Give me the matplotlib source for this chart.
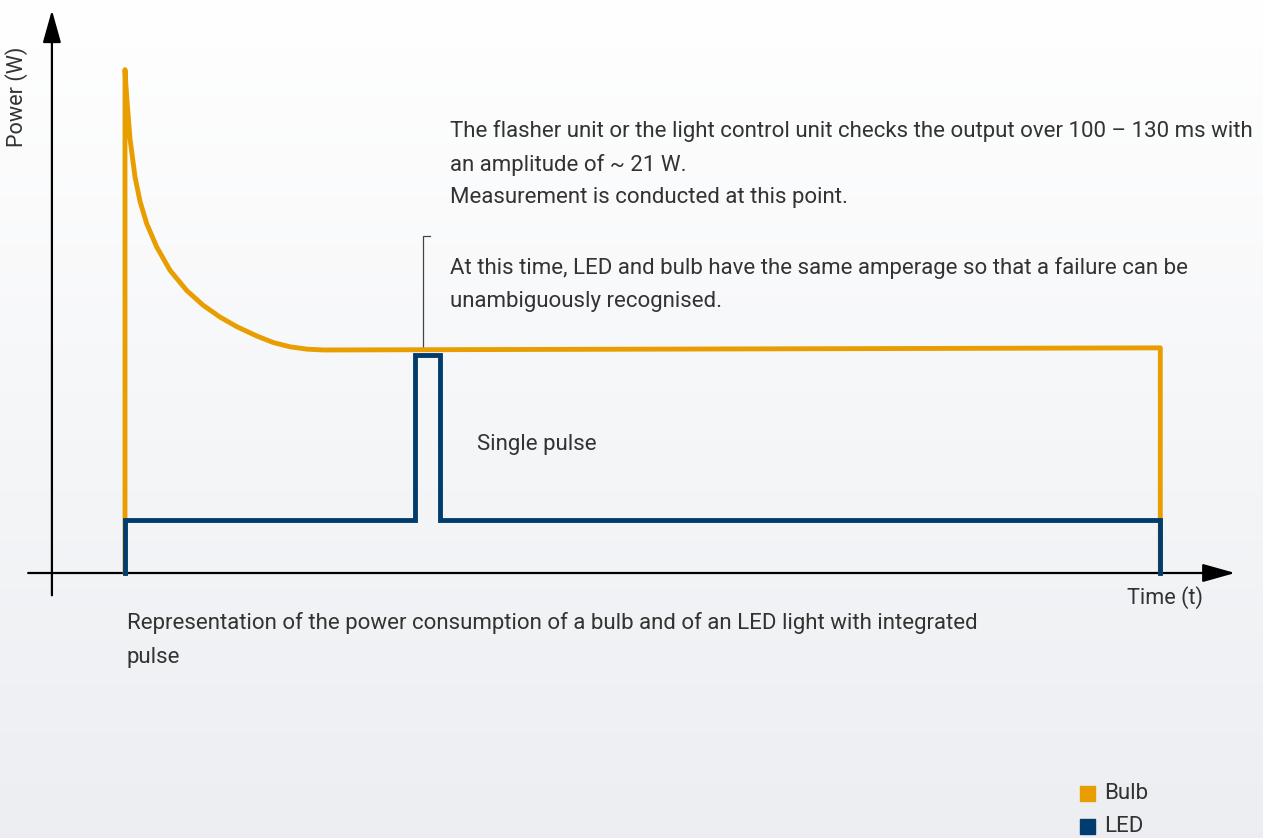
import numpy as np
import matplotlib
matplotlib.use("Agg")
import matplotlib.pyplot as plt

plt.rcParams['font.family'] = ['Roboto', 'DejaVu Sans']

# time in ms, power in W
bulb_t = [0, 0, 0.3, 0.79, 1.72, 3.45, 5.17, 7.48, 10.93, 15.52, 21.28, 27.0,
          32.76, 38.52, 45.41, 51.14, 56.9, 62.66, 68.4, 357, 357]
bulb_p = [0, 47.4, 46.0, 44.1, 40.9, 37.3, 35.0, 32.9, 30.7, 28.5, 26.6, 25.2,
          24.1, 23.2, 22.32, 21.7, 21.3, 21.08, 21.0, 21.2, 0]

led_t = [0, 0, 100, 100, 108.6, 108.6, 357, 357]
led_p = [0, 5.0, 5.0, 20.5, 20.5, 5.0, 5.0, 0]

marker_t = 102.8
marker_p = (21.05, 31.7)

ORANGE = '#e89e00'
NAVY = '#003d6e'
TEXT = '#333333'

W, H = 1263, 838
fig = plt.figure(figsize=(W / 100, H / 100), dpi=100)

# soft vertical gradient background
bg = fig.add_axes([0, 0, 1, 1])
bg.axis('off')
top = np.array([1.0, 1.0, 1.0])
bottom = np.array([0.925, 0.933, 0.947])
grad = np.linspace(0, 1, 256)[:, None, None]
bg.imshow(top + (bottom - top) * grad, aspect='auto', extent=[0, 1, 0, 1])

# px per unit, origin at t=0 / P=0
sx, sy = 2.9, 10.62
x0, y0 = 125, 573
ax = fig.add_axes([0, 0, 1, 1])
ax.patch.set_alpha(0)
ax.axis('off')
ax.set_xlim(-x0 / sx, (W - x0) / sx)
ax.set_ylim(-(H - y0) / sy, y0 / sy)

arrow = dict(arrowstyle='-|>,head_length=1.0,head_width=0.28', mutation_scale=20,
             lw=1.6, color='black', shrinkA=0, shrinkB=0)
ax.annotate('', xy=(-25.2, 53.0), xytext=(-25.2, -2.1), arrowprops=arrow)
ax.annotate('', xy=(382.8, 0), xytext=(-33.4, 0), arrowprops=arrow)

ax.plot(bulb_t, bulb_p, color=ORANGE, lw=3.5, solid_joinstyle='round',
        solid_capstyle='butt', zorder=3)
ax.plot(led_t, led_p, color=NAVY, lw=3.5, solid_joinstyle='miter', zorder=4)

# measurement marker
ax.plot([marker_t, marker_t, marker_t + 2.3], [marker_p[0], marker_p[1], marker_p[1]],
        color='#444444', lw=0.9, zorder=2)


def ftext(x, y, s, **kw):
    kw.setdefault('fontsize', 16)
    kw.setdefault('color', TEXT)
    kw.setdefault('va', 'center')
    fig.text(x / W, 1 - y / H, s, **kw)


ftext(450, 131, 'The flasher unit or the light control unit checks the output over 100 – 130 ms with')
ftext(450, 165, 'an amplitude of ~ 21 W.')
ftext(450, 198, 'Measurement is conducted at this point.')
ftext(450, 268, 'At this time, LED and bulb have the same amperage so that a failure can be')
ftext(450, 301, 'unambiguously recognised.')
ftext(477, 444, 'Single pulse')
ftext(127, 623, 'Representation of the power consumption of a bulb and of an LED light with integrated')
ftext(127, 657, 'pulse')
ftext(1127, 598, 'Time (t)', fontsize=15.6)
ftext(17, 97, 'Power (W)', rotation=90, ha='center', fontsize=15.6)

# legend
for yy, lab, col in [(793, 'Bulb', ORANGE), (826, 'LED', NAVY)]:
    fig.patches.append(plt.Rectangle((1080 / W, 1 - (yy + 7.5) / H), 15 / W, 15 / H,
                                     transform=fig.transFigure, color=col))
    ftext(1104, yy, lab)

fig.savefig('out.png', dpi=100)
